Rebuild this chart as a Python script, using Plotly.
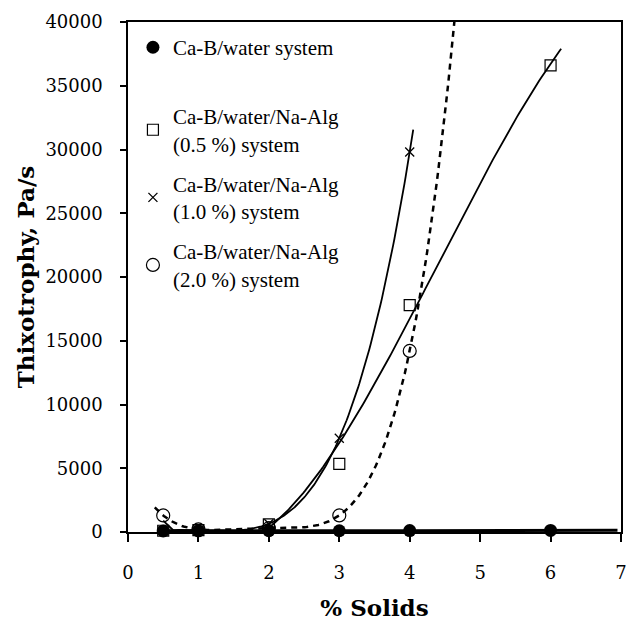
import numpy as np
import plotly.graph_objects as go

# ---- data ----
solids_water = [0.5, 1, 2, 3, 4, 6]
thix_water = [80, 90, 100, 100, 110, 120]

solids_05 = [0.5, 1, 2, 3, 4, 6]
thix_05 = [100, 150, 600, 5350, 17800, 36600]

solids_10 = [0.5, 1, 2, 3, 4]
thix_10 = [100, 150, 650, 7350, 29800]

solids_20 = [0.5, 1, 2, 3, 4]
thix_20 = [1300, 200, 300, 1300, 14200]

names = [
    "Ca-B/water system",
    "Ca-B/water/Na-Alg<br>(0.5 %) system",
    "Ca-B/water/Na-Alg<br>(1.0 %) system",
    "Ca-B/water/Na-Alg<br>(2.0 %) system",
]

x_ticks = [0, 1, 2, 3, 4, 5, 6, 7]
y_ticks = [0, 5000, 10000, 15000, 20000, 25000, 30000, 35000, 40000]


def trend(x, y, deg, x0, x1):
    c = np.polyfit(x, y, deg)
    xs = np.linspace(x0, x1, 200)
    return xs, np.polyval(c, xs)


fig = go.Figure()

# trendlines (derived from the data, like spreadsheet trendlines)
tx, ty = trend(solids_water, thix_water, 1, 0.5, 6.95)
fig.add_trace(go.Scatter(x=tx, y=ty, mode="lines", line=dict(color="black", width=3),
                         showlegend=False, hoverinfo="skip", cliponaxis=False))
tx, ty = trend(solids_05, thix_05, 3, 0.5, 6.15)
fig.add_trace(go.Scatter(x=tx, y=ty, mode="lines", line=dict(color="black", width=1.8),
                         showlegend=False, hoverinfo="skip"))
tx, ty = trend(solids_10, thix_10, 4, 0.5, 4.05)
fig.add_trace(go.Scatter(x=tx, y=ty, mode="lines", line=dict(color="black", width=1.8),
                         showlegend=False, hoverinfo="skip"))
tx, ty = trend(solids_20, thix_20, 4, 0.38, 4.66)
fig.add_trace(go.Scatter(x=tx, y=ty, mode="lines",
                         line=dict(color="black", width=2.5, dash="6px,5px"),
                         showlegend=False, hoverinfo="skip"))

serif = "DejaVu Serif"

fig.add_trace(go.Scatter(x=solids_water, y=thix_water, mode="markers", name=names[0],
                         legend="legend",
                         marker=dict(symbol="circle", size=13, color="black"),
                         cliponaxis=False))
fig.add_trace(go.Scatter(x=solids_05, y=thix_05, mode="markers", name=names[1],
                         legend="legend2", legendgroup="b",
                         marker=dict(symbol="square-open", size=11, color="black",
                                     line=dict(width=1.2, color="black")),
                         cliponaxis=False))
fig.add_trace(go.Scatter(x=solids_10, y=thix_10, mode="markers", name=names[2],
                         legend="legend2", legendgroup="c",
                         marker=dict(symbol="x-thin", size=9, color="black",
                                     line=dict(width=1.3, color="black")),
                         cliponaxis=False))
fig.add_trace(go.Scatter(x=solids_20, y=thix_20, mode="markers", name=names[3],
                         legend="legend2", legendgroup="d",
                         marker=dict(symbol="circle-open", size=13, color="black",
                                     line=dict(width=1.2, color="black")),
                         cliponaxis=False))

legfont = dict(family="Liberation Serif", size=21, color="black")
fig.update_layout(
    width=626, height=625,
    margin=dict(l=128, r=5, t=22, b=93),
    paper_bgcolor="white", plot_bgcolor="white",
    font=dict(family=serif, color="black", size=18),
    legend=dict(x=0.01, y=0.99, xanchor="left", yanchor="top",
                bgcolor="rgba(0,0,0,0)", font=legfont, itemwidth=30),
    legend2=dict(x=0.01, y=0.855, xanchor="left", yanchor="top",
                 bgcolor="rgba(0,0,0,0)", font=legfont, itemwidth=30,
                 tracegroupgap=10),
    showlegend=True,
)
fig.update_xaxes(
    range=[0, 7], tickvals=x_ticks, ticktext=[str(v) for v in x_ticks],
    showline=True, linecolor="black", linewidth=1.5, mirror=True,
    ticks="outside", ticklen=8, tickwidth=1.5, tickcolor="black",
    showgrid=False, zeroline=False, ticklabelstandoff=16,
    ticklabeloverflow="allow",
    tickfont=dict(family=serif, size=18), automargin=False,
    title=dict(text="<b>% Solids</b>", font=dict(family=serif, size=23), standoff=18),
)
fig.update_yaxes(
    range=[0, 40000], tickvals=y_ticks, ticktext=[str(v) for v in y_ticks],
    showline=True, linecolor="black", linewidth=1.5, mirror=True,
    ticks="outside", ticklen=6, tickwidth=1.5, tickcolor="black",
    showgrid=False, zeroline=False, ticklabelstandoff=14,
    ticklabeloverflow="allow",
    tickfont=dict(family=serif, size=18), automargin=False,
    title=dict(text="<b>Thixotrophy, Pa/s</b>", font=dict(family=serif, size=23), standoff=4),
)

fig.write_html("out.html")
